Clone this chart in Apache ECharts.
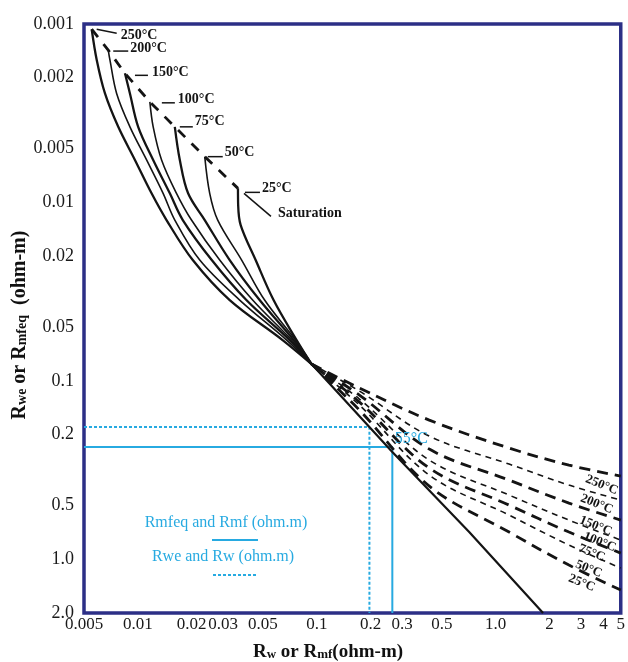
<!DOCTYPE html>
<html><head><meta charset="utf-8">
<script src="https://cdn.jsdelivr.net/npm/echarts@6/dist/echarts.min.js"></script>
<style>html,body{margin:0;padding:0;background:#fff}#c{width:628px;height:662px}</style>
</head><body><div id="c"></div>
<script>
// ---------- data ----------
const xTicks = [0.005,0.01,0.02,0.03,0.05,0.1,0.2,0.3,0.5,1,2,3,4,5];
const xTickLabels = ['0.005','0.01','0.02','0.03','0.05','0.1','0.2','0.3','0.5','1.0','2','3','4','5'];
const yTicks = [0.001,0.002,0.005,0.01,0.02,0.05,0.1,0.2,0.5,1,2];
const yTickLabels = ['0.001','0.002','0.005','0.01','0.02','0.05','0.1','0.2','0.5','1.0','2.0'];
const temps = ['250°C','200°C','150°C','100°C','75°C','50°C','25°C'];

// saturation points (top of each solid curve)
const saturation = [[0.00552,0.00107],[0.00683,0.0014],[0.00847,0.00189],[0.01167,0.00273],[0.01609,0.00377],[0.02365,0.00554],[0.03627,0.00834]];

// solid curves (Rwe vs Rw, low resistivity region)
const solid250 = [[0.00552,0.00107],[0.00589,0.00159],[0.00655,0.00245],[0.00777,0.00377],[0.00963,0.00578],[0.01193,0.00889],[0.01446,0.01255],[0.02027,0.02103],[0.03261,0.03525],[0.0644,0.05907],[0.0935,0.0805]];
const solid200 = [[0.00683,0.0014],[0.00698,0.00159],[0.00761,0.00245],[0.00903,0.00377],[0.01119,0.00578],[0.01384,0.00889],[0.01609,0.01255],[0.02218,0.02103],[0.03707,0.03525],[0.0678,0.05907],[0.0935,0.0805]];
const solid150 = [[0.00847,0.00189],[0.00903,0.00245],[0.01004,0.00377],[0.01218,0.00578],[0.01509,0.00889],[0.01783,0.01255],[0.02588,0.02103],[0.0404,0.03525],[0.0705,0.05907],[0.0935,0.0805]];
const solid100 = [[0.01167,0.00273],[0.01218,0.00377],[0.01357,0.00578],[0.01644,0.00889],[0.01994,0.01255],[0.02867,0.02103],[0.0438,0.03525],[0.0723,0.05907],[0.0935,0.0805]];
const solid75  = [[0.01609,0.00377],[0.01716,0.00578],[0.01909,0.00889],[0.02365,0.01255],[0.03261,0.02103],[0.04793,0.03525],[0.0742,0.05907],[0.0935,0.0805]];
const solid50  = [[0.02365,0.00554],[0.02521,0.00889],[0.02795,0.01255],[0.03803,0.02103],[0.0511,0.03525],[0.0761,0.05907],[0.0935,0.0805]];
const solid25  = [[0.03627,0.00834],[0.03636,0.01034],[0.03755,0.01339],[0.04553,0.02103],[0.05734,0.03525],[0.0771,0.05907],[0.0935,0.0805]];

// dashed curves (high resistivity region)
const dashed250 = [[0.0935,0.0805],[0.1731,0.1097],[0.4253,0.1659],[1.188,0.2381],[2.567,0.2965],[5,0.3417]];
const dashed200 = [[0.0935,0.0805],[0.1731,0.1141],[0.4253,0.2039],[1.188,0.2927],[2.567,0.3838],[5,0.4658]];
const dashed150 = [[0.0935,0.0805],[0.1731,0.1201],[0.4253,0.2412],[1.188,0.3599],[2.567,0.4842],[5,0.6029]];
const dashed100 = [[0.0935,0.0805],[0.1731,0.1265],[0.4253,0.2779],[1.188,0.4367],[2.567,0.6029],[5,0.7805]];
const dashed75  = [[0.0935,0.0805],[0.1731,0.1315],[0.4253,0.3082],[1.188,0.4968],[2.567,0.7039],[5,0.9232]];
const dashed50  = [[0.0935,0.0805],[0.1731,0.1367],[0.4253,0.3373],[1.188,0.5652],[2.567,0.8326],[5,1.120]];
const dashed25  = [[0.0935,0.0805],[0.1731,0.1458],[0.4253,0.3889],[1.188,0.7039],[2.567,1.078],[5,1.488]];

// common straight solid line
const solidLine = [[0.0935,0.0805],[0.2644,0.2506],[0.711,0.704],[1.84,2.0]];

// worked example (cyan)
const rmfExample = [[0.005,0.235],[0.2644,0.235],[0.2644,2]];
const rwExample  = [[0.005,0.1815],[0.1969,0.1815],[0.1969,2]];
const exampleLabel = '55°C';

// ---------- chart ----------
const X_MIN = 0.005, X_MAX = 5, Y_MIN = 0.001, Y_MAX = 2;
const SERIF = '"Liberation Serif","DejaVu Serif",serif';
const BLACK = '#141414';
const CYAN = '#27aae1';
const NAVY = '#2c2f86';

function fmt(ticks, labels) {
  return v => {
    let best = 0, bd = 1e9;
    ticks.forEach((t, i) => { const d = Math.abs(Math.log10(v) - Math.log10(t)); if (d < bd) { bd = d; best = i; } });
    return labels[best];
  };
}
const clampIn = (arr, lo, hi) => arr.map(v => Math.min(Math.max(v, lo * 1.000001), hi / 1.000001));

const solidCurves = [solid250, solid200, solid150, solid100, solid75, solid50, solid25];
const dashedCurves = [dashed250, dashed200, dashed150, dashed100, dashed75, dashed50, dashed25];
const heavy = [true, false, true, false, true, false, true];

const series = [];
series.push({ type:'line', name:'Rmfeq and Rmf (ohm.m)', data: rmfExample, showSymbol:false, silent:true,
  lineStyle:{ color: CYAN, width: 2 }, z: 1 });
series.push({ type:'line', name:'Rwe and Rw (ohm.m)', data: rwExample, showSymbol:false, silent:true,
  lineStyle:{ color: CYAN, width: 2, type:[3,2] }, z: 1 });
solidCurves.forEach((d, i) => series.push({ type:'line', name: temps[i], data: d, smooth: 0.35, showSymbol:false, silent:true,
  lineStyle:{ color: BLACK, width: heavy[i] ? 2.3 : 1.6 }, z: 3 }));
dashedCurves.forEach((d, i) => series.push({ type:'line', name: temps[i] + ' ', data: d, smooth: 0.35, showSymbol:false, silent:true,
  lineStyle:{ color: BLACK, width: heavy[i] ? 2.8 : 1.6, type: heavy[i] ? [11,7] : [6,5] }, z: 3 }));
series.push({ type:'line', name:'Saturation', data: saturation, showSymbol:false, silent:true,
  lineStyle:{ color: BLACK, width: 2.8, type:[10,9] }, z: 3 });
series.push({ type:'line', name:'line', data: solidLine, showSymbol:false, silent:true,
  lineStyle:{ color: BLACK, width: 2.2 }, z: 3 });

const chart = echarts.init(document.getElementById('c'), null, { renderer: 'canvas' });
const option = {
  animation: false,
  backgroundColor: '#ffffff',
  grid: { left: 84, right: 6, top: 24, bottom: 49, show: true, borderColor: NAVY, borderWidth: 3.5, backgroundColor: '#fff' },
  xAxis: {
    type: 'log', logBase: 10, min: X_MIN, max: X_MAX,
    axisLine: { show: false }, axisTick: { show: false }, splitLine: { show: false },
    axisLabel: { customValues: clampIn(xTicks, X_MIN, X_MAX), formatter: fmt(xTicks, xTickLabels),
      hideOverlap: false, margin: 3, color: '#1a1a1a', fontFamily: SERIF, fontSize: 17 }
  },
  yAxis: {
    type: 'log', logBase: 10, min: Y_MIN, max: Y_MAX, inverse: true,
    axisLine: { show: false }, axisTick: { show: false }, splitLine: { show: false },
    axisLabel: { customValues: clampIn(yTicks, Y_MIN, Y_MAX), formatter: fmt(yTicks, yTickLabels),
      hideOverlap: false, margin: 10, color: '#1a1a1a', fontFamily: SERIF, fontSize: 18 }
  },
  series
};
chart.setOption(option);

// ---------- annotations anchored to data ----------
const px = p => chart.convertToPixel({ gridIndex: 0 }, p);
const g = [];
// temperature labels at saturation points: [leader x1,y1,x2,y2, text x, text y] offsets
const topOff = [[5,0,25,4,29,6],[5,1,20,1,22,-2],[10,2,23,2,27,-1],[12,1,25,1,28,-2],[5,0,18,0,20,-5],[3,0,18,0,20,-4],[7,4,22,4,24,0]];
saturation.forEach((p, i) => {
  const [x, y] = px(p); const o = topOff[i];
  g.push({ type:'line', shape:{ x1:x+o[0], y1:y+o[1], x2:x+o[2], y2:y+o[3] }, style:{ stroke: BLACK, lineWidth: 1.5 }, z: 10 });
  g.push({ type:'text', x: x+o[4], y: y+o[5], style:{ text: temps[i], font: 'bold 14px ' + SERIF, fill: BLACK, align:'left', verticalAlign:'middle' }, z: 10 });
});
// Saturation label
{
  const [x, y] = px(saturation[6]);
  g.push({ type:'line', shape:{ x1:x+6, y1:y+5, x2:x+33, y2:y+28 }, style:{ stroke: BLACK, lineWidth: 1.5 }, z: 10 });
  g.push({ type:'text', x: x+40, y: y+25, style:{ text:'Saturation', font:'bold 14px ' + SERIF, fill: BLACK, align:'left', verticalAlign:'middle' }, z: 10 });
}
// right-end labels
const rightOff = [[-19,9],[-24,4],[-25,6],[-21,2],[-29,0],[-32,1],[-39,-7]];
dashedCurves.forEach((d, i) => {
  const [x, y] = px(d[d.length - 1]); const o = rightOff[i];
  g.push({ type:'text', x: x+o[0], y: y+o[1], rotation: -0.38, style:{ text: temps[i], font:'bold 13px ' + SERIF, fill: BLACK, align:'center', verticalAlign:'middle' }, z: 10 });
});
// 55°C example label
{
  const [x, y] = px(rmfExample[1]);
  g.push({ type:'text', x: x+19, y: y-8, style:{ text: exampleLabel, font:'16px ' + SERIF, fill: CYAN, align:'center', verticalAlign:'middle' }, z: 10 });
}
// cyan key
g.push({ type:'text', x: 226, y: 523, style:{ text: series[0].name, font:'16px ' + SERIF, fill: CYAN, align:'center', verticalAlign:'middle' } });
g.push({ type:'line', shape:{ x1:212, y1:540, x2:258, y2:540 }, style:{ stroke: CYAN, lineWidth: 2 } });
g.push({ type:'text', x: 223, y: 557, style:{ text: series[1].name, font:'16px ' + SERIF, fill: CYAN, align:'center', verticalAlign:'middle' } });
g.push({ type:'line', shape:{ x1:213, y1:575, x2:258, y2:575 }, style:{ stroke: CYAN, lineWidth: 2, lineDash:[3,2] } });
// axis titles
const rich = {
  a: { font: 'bold 19px ' + SERIF, fill: '#111', lineHeight: 22, verticalAlign: 'bottom' },
  b: { font: 'bold 13px ' + SERIF, fill: '#111', lineHeight: 22, verticalAlign: 'bottom', padding:[0,0,1,0] }
};
const richY = {
  a: { font: 'bold 20px ' + SERIF, fill: '#111', lineHeight: 24, verticalAlign: 'bottom' },
  b: { font: 'bold 14px ' + SERIF, fill: '#111', lineHeight: 24, verticalAlign: 'bottom', padding:[0,0,1,0] }
};
g.push({ type:'text', x: 328, y: 651, style:{ text:'{a|R}{b|w}{a| or R}{b|mf}{a|(ohm-m)}', rich, align:'center', verticalAlign:'middle' } });
g.push({ type:'text', x: 18, y: 325, rotation: Math.PI/2, style:{ text:'{a|R}{b|we}{a| or R}{b|mfeq}{a|  (ohm-m)}', rich: richY, align:'center', verticalAlign:'middle' } });

chart.setOption({ graphic: g });
</script>
</body></html>
